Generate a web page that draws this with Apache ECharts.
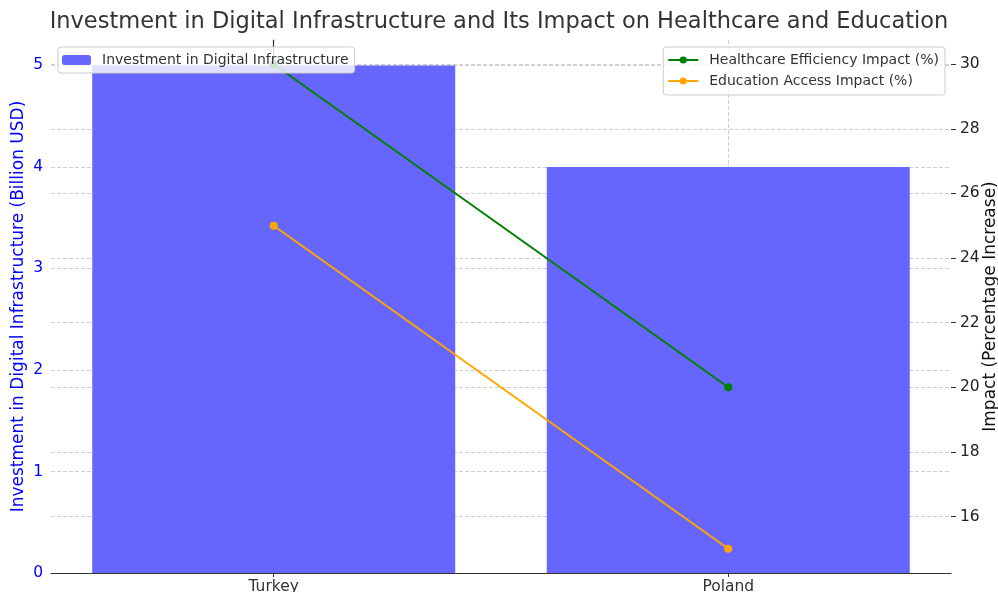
<!DOCTYPE html>
<html>
<head>
<meta charset="utf-8">
<script src="https://cdn.jsdelivr.net/npm/echarts@6/dist/echarts.min.js"></script>
<style>html,body{margin:0;padding:0;background:#fff}#c{width:998px;height:592px}</style>
</head>
<body>
<div id="c"></div>
<script>
const categories = ["Turkey", "Poland"];
const investment = [5, 4];
const healthcare = [30, 20];
const education = [25, 15];
const leftTicks = [0, 1, 2, 3, 4, 5];
const rightTicks = [16, 18, 20, 22, 24, 26, 28, 30];

const idx = categories.map((c, i) => i);
const font = "DejaVu Sans";
const chart = echarts.init(document.getElementById('c'));
chart.setOption({
  animation: false,
  backgroundColor: '#fff',
  textStyle: { fontFamily: font },
  title: {
    text: 'Investment in Digital Infrastructure and Its Impact on Healthcare and Education',
    left: 'center', top: 6,
    textStyle: { fontFamily: font, fontSize: 22.5, fontWeight: 'normal', color: '#333' }
  },
  legend: [
    {
      data: ['Investment in Digital Infrastructure'],
      left: 58, top: 47, orient: 'vertical',
      backgroundColor: 'rgba(255,255,255,0.8)', borderColor: '#ccc', borderWidth: 1, borderRadius: 3,
      padding: [6, 6, 6, 4], itemWidth: 29, itemHeight: 10,
      textStyle: { fontFamily: font, fontSize: 14, color: '#333', padding: [0, 0, 0, 6] }
    },
    {
      data: ['Healthcare Efficiency Impact (%)', 'Education Access Impact (%)'],
      right: 53, top: 47, orient: 'vertical', itemGap: 7,
      backgroundColor: 'rgba(255,255,255,0.8)', borderColor: '#ccc', borderWidth: 1, borderRadius: 3,
      padding: [6, 6, 7, 4], itemWidth: 30, itemHeight: 9,
      textStyle: { fontFamily: font, fontSize: 14, color: '#333', padding: [0, 0, 0, 6] }
    }
  ],
  grid: { left: 51, right: 47, top: 40, bottom: 19, containLabel: false, outerBoundsMode: 'none' },
  xAxis: {
    type: 'value', min: -0.49, max: 1.49,
    axisLine: { show: true, lineStyle: { color: '#333', width: 1.2 } },
    axisTick: { show: true, customValues: idx, length: 4, lineStyle: { color: '#333' } },
    axisLabel: { customValues: idx, formatter: v => categories[Math.round(v)] || '', fontSize: 15.5, color: '#333', margin: 6 },
    splitLine: { show: true, customValues: idx, lineStyle: { type: 'dashed', color: '#d0d0d0' } }
  },
  yAxis: [
    {
      type: 'value', min: 0, max: 5.25, interval: 1,
      name: 'Investment in Digital Infrastructure (Billion USD)',
      nameLocation: 'middle', nameGap: 24, nameRotate: 90, nameMoveOverlap: false,
      nameTextStyle: { color: '#0000ff', fontSize: 17, fontFamily: font },
      axisLine: { show: true, lineStyle: { color: '#333', width: 1.2 } },
      axisTick: { show: true, customValues: leftTicks, length: 4, lineStyle: { color: '#333' } },
      axisLabel: { color: '#0000ff', fontSize: 15.5, margin: 8, customValues: leftTicks },
      splitLine: { show: true, customValues: leftTicks, lineStyle: { type: 'dashed', color: '#d0d0d0' } }
    },
    {
      type: 'value', min: 14.25, max: 30.75, position: 'right',
      name: 'Impact (Percentage Increase)',
      nameLocation: 'middle', nameGap: 31, nameRotate: 90, nameMoveOverlap: false,
      nameTextStyle: { color: '#111', fontSize: 17, fontFamily: font },
      axisLine: { show: false },
      axisTick: { show: true, customValues: rightTicks, length: 5, lineStyle: { color: '#333' } },
      axisLabel: { color: '#222', fontSize: 15.5, margin: 9, customValues: rightTicks },
      splitLine: { show: true, customValues: rightTicks, lineStyle: { type: 'dashed', color: '#d0d0d0' } }
    }
  ],
  series: [
    {
      name: 'Investment in Digital Infrastructure', type: 'bar', yAxisIndex: 0,
      data: idx.map(i => [i, investment[i]]), barWidth: 363,
      itemStyle: { color: '#6666ff' }, z: 1
    },
    {
      name: 'Healthcare Efficiency Impact (%)', type: 'line', yAxisIndex: 1,
      data: idx.map(i => [i, healthcare[i]]),
      lineStyle: { color: '#008000', width: 2 }, itemStyle: { color: '#008000' },
      symbol: 'circle', symbolSize: 8, z: 3
    },
    {
      name: 'Education Access Impact (%)', type: 'line', yAxisIndex: 1,
      data: idx.map(i => [i, education[i]]),
      lineStyle: { color: '#ffa500', width: 2 }, itemStyle: { color: '#ffa500' },
      symbol: 'circle', symbolSize: 8, z: 3
    }
  ]
});
</script>
</body>
</html>
